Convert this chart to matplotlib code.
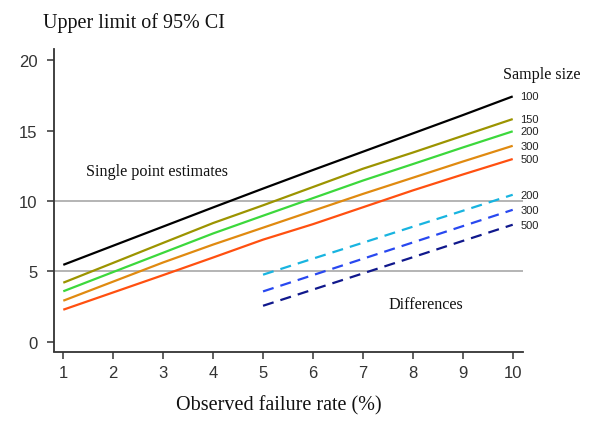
import matplotlib
matplotlib.use("Agg")
import matplotlib.pyplot as plt

# Data (observed failure rate in %, upper limit of 95% CI)
rates = [1, 2, 3, 4, 5, 6, 7, 8, 9, 10]
single_labels = ["100", "150", "200", "300", "500"]
n100 = [5.46, 6.82, 8.18, 9.54, 10.88, 12.2, 13.5, 14.8, 16.1, 17.43]
n150 = [4.19, 5.6, 7.02, 8.43, 9.69, 10.99, 12.29, 13.44, 14.63, 15.82]
n200 = [3.58, 4.95, 6.32, 7.69, 8.95, 10.2, 11.45, 12.62, 13.8, 14.95]
n300 = [2.91, 4.27, 5.63, 6.9, 8.1, 9.3, 10.5, 11.65, 12.8, 13.92]
n500 = [2.27, 3.5, 4.73, 5.98, 7.25, 8.35, 9.55, 10.75, 11.88, 12.98]

diff_rates = [5, 6, 7, 8, 9, 10]
diff_labels = ["200", "300", "500"]
d200 = [4.76, 5.9, 7.03, 8.17, 9.3, 10.44]
d300 = [3.57, 4.73, 5.89, 7.05, 8.21, 9.37]
d500 = [2.55, 3.7, 4.85, 6.0, 7.16, 8.31]

xticks = [1, 2, 3, 4, 5, 6, 7, 8, 9, 10]
yticks = [0, 5, 10, 15, 20]

single_series = [n100, n150, n200, n300, n500]
single_colors = ["#000000", "#9c9400", "#3cd83c", "#e08a10", "#ff5010"]
diff_series = [d200, d300, d500]
diff_colors = ["#18b4e0", "#2848f0", "#10188c"]

serif = ["Liberation Serif", "DejaVu Serif"]
sans = ["Liberation Sans", "DejaVu Sans"]

fig = plt.figure(figsize=(6.0, 4.35), dpi=100)
ax = fig.add_axes([54 / 600, 1 - 352.5 / 435, (522.7 - 54) / 600, (352.5 - 50) / 435])

ax.set_xlim(0.814, 10.2)
ax.set_ylim(-0.70, 20.8)

for yv in (5, 10):
    ax.axhline(yv, color="#a0a0a0", lw=1.1, zorder=1)

for vals, col in zip(single_series, single_colors):
    ax.plot(rates, vals, color=col, lw=1.6, solid_capstyle="butt", zorder=3)
for vals, col in zip(diff_series, diff_colors):
    ax.plot(diff_rates, vals, color=col, lw=1.6, dashes=(5, 3.2), zorder=3)

for vals, lab in zip(single_series, single_labels):
    ax.text(10.15, vals[-1], lab, fontsize=8, family=sans, va="center", ha="left", color="#222222")
for vals, lab in zip(diff_series, diff_labels):
    ax.text(10.15, vals[-1], lab, fontsize=8, family=sans, va="center", ha="left", color="#222222")

ax.set_xticks(xticks)
ax.set_yticks(yticks)
ax.set_xticklabels([str(v) for v in xticks], family=sans, fontsize=12, color="#222222")
ax.set_yticklabels([str(v) for v in yticks], family=sans, fontsize=12, color="#222222")
ax.tick_params(direction="out", length=5, width=1.1, colors="#333333")
ax.tick_params(axis="y", pad=7)
ax.tick_params(axis="x", pad=5)
for s in ("top", "right"):
    ax.spines[s].set_visible(False)
for s in ("left", "bottom"):
    ax.spines[s].set_color("#333333")
    ax.spines[s].set_linewidth(1.3)

fig.text(43 / 600, 1 - 23 / 435, "Upper limit of 95% CI", family=serif, fontsize=14.5,
         ha="left", va="center", color="#111111")
fig.text(279 / 600, 1 - 406 / 435, "Observed failure rate (%)", family=serif, fontsize=14.5,
         ha="center", va="center", color="#111111")
fig.text(86 / 600, 1 - 172 / 435, "Single point estimates", family=serif, fontsize=11.6,
         ha="left", va="center", color="#111111")
fig.text(388 / 600, 1 - 305 / 435, "Differences", family=serif, fontsize=11.6,
         ha="left", va="center", color="#111111")
fig.text(503 / 600, 1 - 75 / 435, "Sample size", family=serif, fontsize=11.6,
         ha="left", va="center", color="#111111")

fig.savefig("out.png", dpi=100)
